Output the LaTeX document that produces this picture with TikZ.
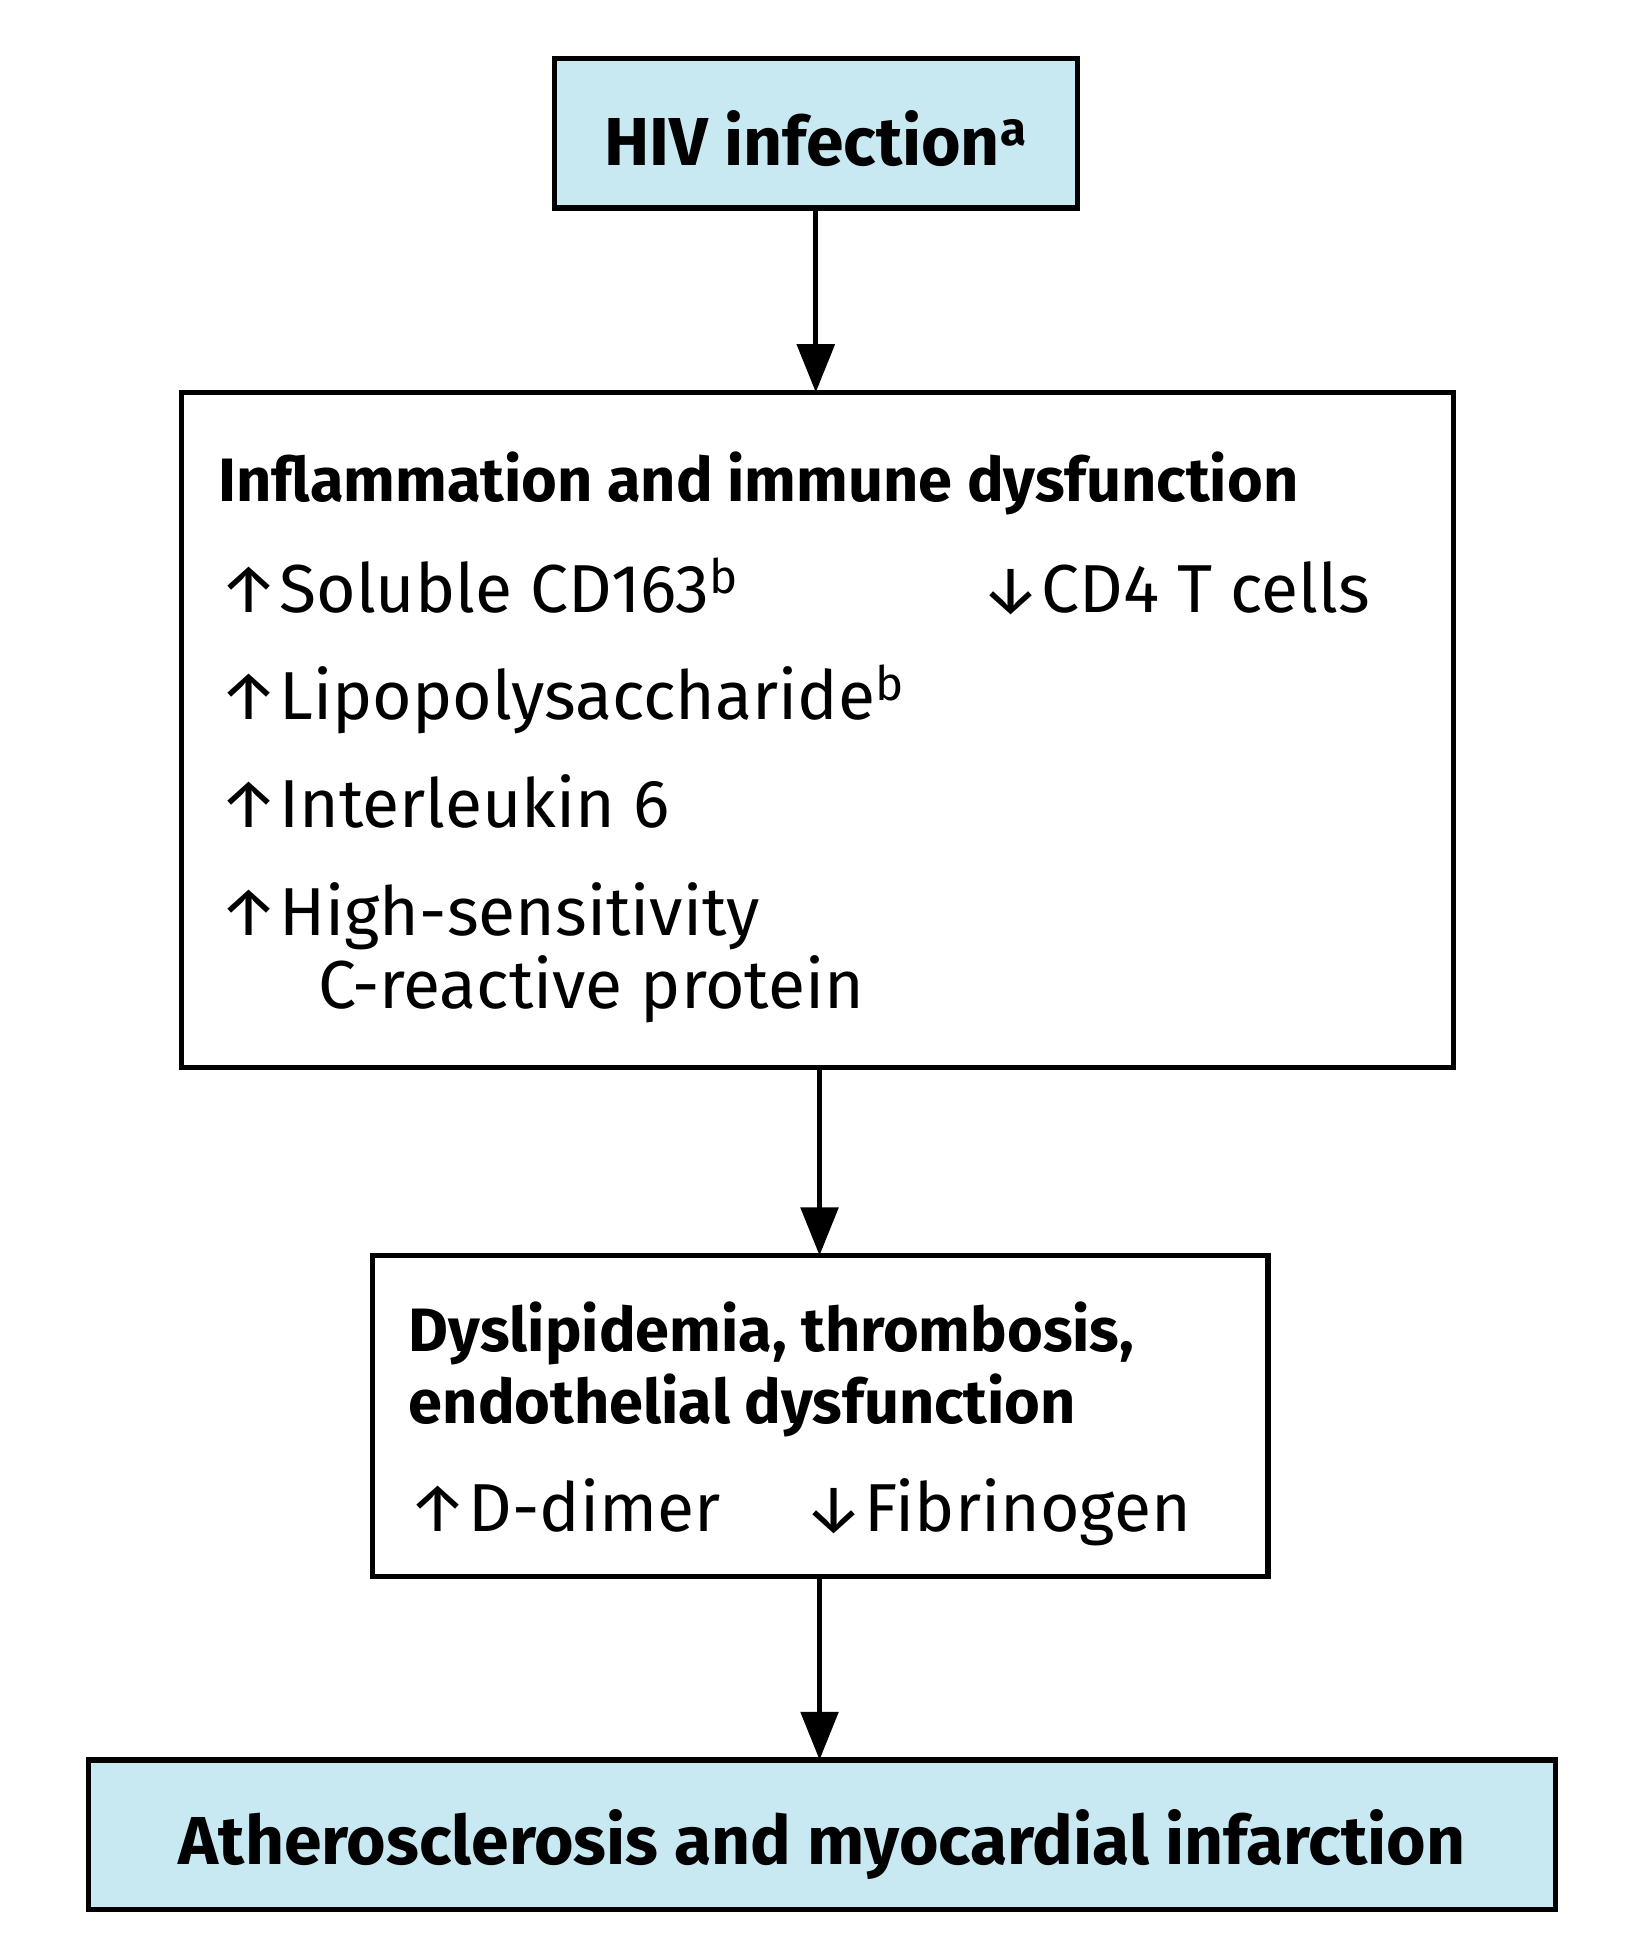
\documentclass[tikz,border=0pt]{standalone}
\usepackage{fontspec}
\setmainfont{Fira Sans}
\usetikzlibrary{arrows.meta}
\definecolor{boxblue}{HTML}{C8E8F2}
\begin{document}
\begin{tikzpicture}[x=0.02cm,y=-0.02cm,
  box/.style={draw=black,line width=2.4pt},
  item/.style={anchor=base west,inner sep=0pt,font=\fontsize{31}{36}\selectfont},
  head/.style={anchor=base west,inner sep=0pt,font=\fontsize{28}{34}\selectfont\bfseries},
  flow/.style={line width=2.4pt,-{Triangle[length=22pt,width=17pt]}}]
\useasboundingbox (0,0) rectangle (1320,1552);

% boxes
\draw[box,fill=boxblue] (445,47) rectangle (865,167);
\draw[box] (146,315) rectangle (1167,857);
\draw[box] (299,1008) rectangle (1018,1266);
\draw[box,fill=boxblue] (71,1413) rectangle (1249,1533);

\coordinate (hivS) at (655,167);
\coordinate (infN) at (655,315);
\coordinate (infS) at (658,857);
\coordinate (dysN) at (658,1008);
\coordinate (dysS) at (658,1266);
\coordinate (athN) at (658,1413);

\node[inner sep=0pt,anchor=base,font=\fontsize{31}{36}\selectfont\bfseries] (hiv) at (655,133) {HIV infection\textsuperscript{a}};

\node[head] (infl) at (175,403) {Inflammation and immune dysfunction};
\node[item] (cd163) at (175,492) {↑Soluble CD163\textsuperscript{b}};
\node[item] (cd4) at (787,492) {↓CD4 T cells};
\node[item] (lps) at (175,578) {↑Lipopolysaccharide\textsuperscript{b}};
\node[item] (il6) at (175,664) {↑Interleukin 6};
\node[item] (crp) at (175,751) {↑High-sensitivity};
\node[item] (crp2) at (255,810) {C-reactive protein};

\node[head] (dys) at (328,1085) {Dyslipidemia, thrombosis,};
\node[head] (dys2) at (328,1143) {endothelial dysfunction};
\node[item] (ddim) at (327,1230) {↑D-dimer};
\node[item] (fib) at (645,1230) {↓Fibrinogen};

\node[inner sep=0pt,anchor=base,font=\fontsize{31}{36}\selectfont\bfseries] (ath) at (660,1497) {Atherosclerosis and myocardial infarction};

\draw[flow] (hivS) -- (infN);
\draw[flow] (infS) -- (dysN);
\draw[flow] (dysS) -- (athN);
\end{tikzpicture}
\end{document}
